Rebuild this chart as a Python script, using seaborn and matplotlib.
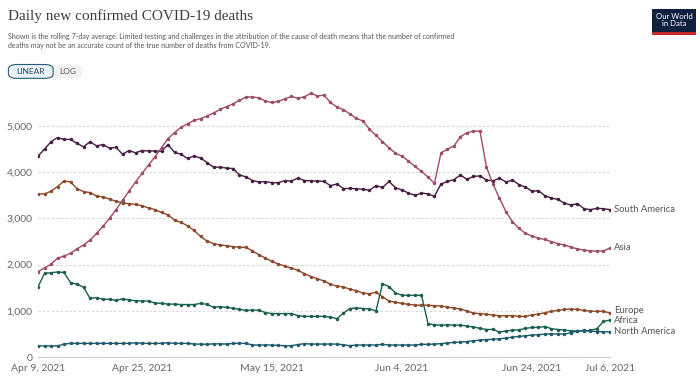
import pandas as pd
import seaborn as sns
import matplotlib.pyplot as plt
from matplotlib.patches import FancyBboxPatch, Rectangle

# Daily series, Apr 9 2021 .. Jul 6 2021 (7-day rolling average)
dates = pd.date_range('2021-04-09', '2021-07-06', freq='D')

south_america = [4350, 4500, 4660, 4750, 4710, 4710, 4625, 4550, 4660, 4570,
                 4600, 4520, 4540, 4390, 4470, 4420, 4470, 4460, 4460, 4450,
                 4600, 4430, 4390, 4300, 4350, 4310, 4210, 4110, 4110, 4090,
                 4080, 3940, 3900, 3820, 3790, 3795, 3775, 3775, 3820, 3810,
                 3875, 3820, 3815, 3810, 3800, 3710, 3745, 3645, 3650, 3645,
                 3630, 3610, 3710, 3670, 3800, 3665, 3615, 3550, 3500, 3550,
                 3530, 3480, 3745, 3800, 3840, 3940, 3845, 3910, 3920, 3830,
                 3815, 3870, 3790, 3830, 3730, 3680, 3590, 3600, 3490, 3440,
                 3410, 3330, 3290, 3320, 3210, 3190, 3220, 3210, 3190]

asia = [1850, 1925, 2010, 2140, 2185, 2245, 2340, 2425, 2530, 2675,
        2830, 3000, 3190, 3390, 3590, 3790, 3975, 4155, 4335, 4530,
        4725, 4860, 4970, 5050, 5120, 5160, 5215, 5280, 5360, 5420,
        5480, 5555, 5630, 5630, 5610, 5540, 5510, 5535, 5590, 5640,
        5600, 5635, 5710, 5650, 5670, 5510, 5410, 5355, 5260, 5165,
        5110, 4930, 4800, 4660, 4530, 4410, 4350, 4240, 4125, 4020,
        3895, 3760, 4420, 4500, 4570, 4770, 4855, 4890, 4890, 4110,
        3745, 3435, 3145, 2930, 2785, 2675, 2620, 2570, 2545, 2495,
        2455, 2425, 2380, 2340, 2315, 2295, 2295, 2295, 2360]

europe = [3530, 3530, 3590, 3690, 3810, 3790, 3645, 3580, 3560, 3485,
          3465, 3420, 3370, 3335, 3320, 3305, 3275, 3230, 3190, 3130,
          3075, 2965, 2915, 2840, 2740, 2610, 2510, 2455, 2425, 2410,
          2390, 2375, 2375, 2295, 2215, 2140, 2070, 2010, 1970, 1925,
          1875, 1805, 1740, 1695, 1645, 1575, 1535, 1515, 1470, 1435,
          1385, 1370, 1400, 1305, 1210, 1185, 1160, 1140, 1125, 1120,
          1120, 1110, 1105, 1080, 1060, 1040, 995, 950, 940, 925,
          910, 890, 895, 895, 880, 880, 910, 930, 960, 990,
          1010, 1030, 1040, 1030, 1010, 990, 990, 990, 950]

africa = [1520, 1810, 1825, 1840, 1830, 1610, 1575, 1510, 1270, 1285,
          1250, 1250, 1225, 1260, 1235, 1220, 1210, 1210, 1170, 1160,
          1145, 1145, 1135, 1135, 1135, 1160, 1140, 1075, 1090, 1075,
          1055, 1030, 1010, 1015, 1015, 960, 940, 940, 940, 940,
          895, 880, 880, 880, 880, 865, 830, 950, 1050, 1060,
          1050, 1040, 1000, 1585, 1525, 1385, 1340, 1335, 1335, 1335,
          725, 695, 690, 695, 690, 690, 670, 650, 620, 595,
          598, 540, 565, 580, 590, 618, 640, 642, 660, 612,
          595, 585, 565, 565, 565, 578, 615, 770, 800]

north_america = [240, 240, 240, 240, 280, 295, 295, 295, 295, 295,
                 295, 295, 295, 295, 295, 310, 295, 295, 295, 295,
                 310, 295, 295, 295, 280, 280, 275, 285, 285, 280,
                 295, 295, 295, 260, 260, 260, 260, 250, 245, 245,
                 270, 290, 280, 280, 280, 280, 280, 265, 245, 260,
                 260, 260, 260, 275, 260, 260, 260, 260, 260, 275,
                 275, 280, 290, 305, 315, 325, 335, 350, 365, 375,
                 385, 395, 410, 430, 445, 460, 475, 485, 495, 500,
                 500, 495, 530, 560, 575, 560, 550, 545, 545]

regions = ['South America', 'Asia', 'Europe', 'Africa', 'North America']
colors = ['#471c42', '#9e4a68', '#8a4a2a', '#1a5e52', '#1c5a6c']
label_y = [3200, 2360, 1000, 785, 545]
tick_dates = ['2021-04-09', '2021-04-25', '2021-05-15', '2021-06-04', '2021-06-24', '2021-07-06']
y_ticks = [0, 1000, 2000, 3000, 4000, 5000]

df = pd.DataFrame({'date': dates,
                   'South America': south_america,
                   'Asia': asia,
                   'Europe': europe,
                   'Africa': africa,
                   'North America': north_america})
df = df.melt(id_vars='date', var_name='region', value_name='deaths')

sns.set_style('white')
plt.rcParams['font.family'] = ['Lato', 'DejaVu Sans']

fig = plt.figure(figsize=(7, 3.84), dpi=100)
ax = fig.add_axes([0.0543, 0.0703, 0.8171, 0.6953])

sns.lineplot(data=df, x='date', y='deaths', hue='region', hue_order=regions,
             palette=dict(zip(regions, colors)), marker='o', markersize=2.5,
             markeredgewidth=0, linewidth=1, legend=False, ax=ax)

ax.set_xlim(dates[0], dates[-1])
ax.set_ylim(0, 5780)
ax.set_xlabel('')
ax.set_ylabel('')

ax.set_yticks(y_ticks)
ax.set_yticklabels([f'{v:,}' for v in y_ticks])
ticks = pd.to_datetime(tick_dates)
ax.set_xticks(ticks)
ax.set_xticklabels([f'{d:%b} {d.day}, {d.year}' for d in ticks])

ax.tick_params(axis='y', length=0, pad=4, labelsize=7.5, labelcolor='#666666')
ax.tick_params(axis='x', length=3, width=0.8, color='#cccccc', pad=2,
               labelsize=7.5, labelcolor='#666666')

ax.yaxis.grid(True, linestyle=(0, (2, 2)), color='#d5d5d5', linewidth=0.8)
ax.xaxis.grid(False)
for side in ['top', 'right', 'left']:
    ax.spines[side].set_visible(False)
ax.spines['bottom'].set_color('#cccccc')
ax.spines['bottom'].set_linewidth(0.8)

for name, yv in zip(regions, label_y):
    ax.annotate(name, xy=(dates[-1], yv), xytext=(3, 0), textcoords='offset points',
                va='center', ha='left', fontsize=6.8, color='#555555',
                annotation_clip=False)

# header
fig.text(0.011, 0.975, 'Daily new confirmed COVID-19 deaths', family='Liberation Serif',
         fontsize=11, color='#3c3c3c', va='top', ha='left')
fig.text(0.011, 0.915,
         'Shown is the rolling 7-day average. Limited testing and challenges in the attribution of the cause of death means that the number of confirmed\n'
         'deaths may not be an accurate count of the true number of deaths from COVID-19.',
         fontsize=5.1, color='#555555', va='top', ha='left', linespacing=1.35)

# LINEAR / LOG buttons
fig.patches.append(FancyBboxPatch((0.012, 0.796), 0.105, 0.036, transform=fig.transFigure,
                                  boxstyle='round,pad=0,rounding_size=0.012',
                                  facecolor='#f2f2f2', edgecolor='none'))
fig.patches.append(FancyBboxPatch((0.012, 0.796), 0.064, 0.036, transform=fig.transFigure,
                                  boxstyle='round,pad=0,rounding_size=0.012',
                                  facecolor='#e9f3f7', edgecolor='#2c5f77', linewidth=0.8))
fig.text(0.044, 0.814, 'LINEAR', fontsize=6, color='#2c4a5e', ha='center', va='center')
fig.text(0.097, 0.814, 'LOG', fontsize=6, color='#555555', ha='center', va='center')

# logo
fig.patches.append(Rectangle((0.932, 0.908), 0.062, 0.068, transform=fig.transFigure,
                             facecolor='#0e2240', edgecolor='none'))
fig.patches.append(Rectangle((0.932, 0.908), 0.062, 0.008, transform=fig.transFigure,
                             facecolor='#c8282a', edgecolor='none'))
fig.text(0.963, 0.948, 'Our World\nin Data', fontsize=5.6, color='white',
         ha='center', va='center', linespacing=1.0)

fig.savefig('out.png', dpi=100)
